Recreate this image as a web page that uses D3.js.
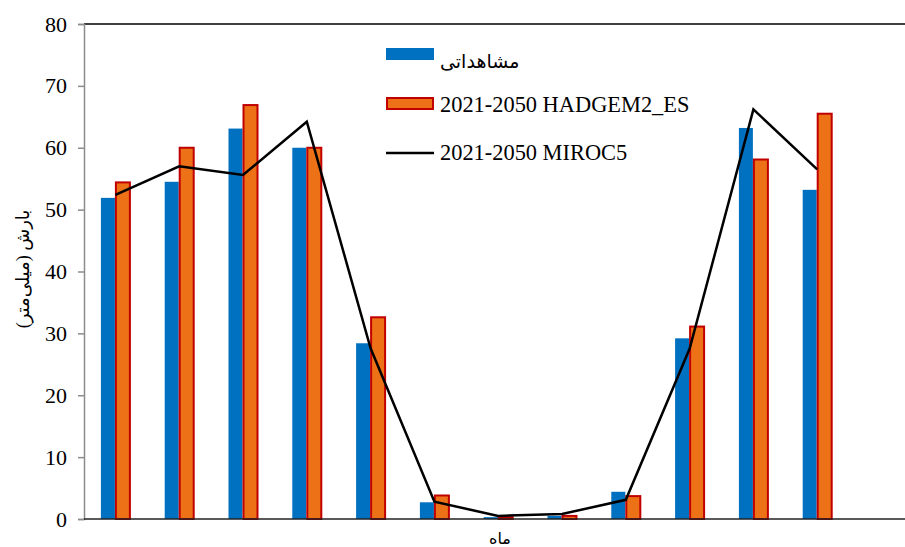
<!DOCTYPE html>
<html>
<head>
<meta charset="utf-8">
<script src="https://cdn.jsdelivr.net/npm/d3@7"></script>
<style>
  html, body { margin: 0; padding: 0; background: #fff; }
  svg { display: block; }
</style>
</head>
<body>
<div id="chart"></div>
<script>
// ---- data ----
const months = [1, 2, 3, 4, 5, 6, 7, 8, 9, 10, 11, 12];
const observed = [51.9, 54.5, 63.1, 60.0, 28.4, 2.7, 0.3, 0.5, 4.4, 29.2, 63.2, 53.2];
const hadgem = [54.4, 60.0, 66.9, 60.0, 32.6, 3.8, 0.3, 0.5, 3.7, 31.1, 58.1, 65.5];
const miroc = [52.4, 57.0, 55.6, 64.2, 27.6, 2.8, 0.5, 0.8, 3.1, 27.5, 66.2, 56.5];
const yTicks = [0, 10, 20, 30, 40, 50, 60, 70, 80];
const seriesNames = ["مشاهداتی", "2021-2050 HADGEM2_ES", "2021-2050 MIROC5"];
const yTitle = "بارش (میلی‌متر)";
const xTitle = "ماه";

(function () {
const W = 905, H = 547;
const pLeft = 84, pTop = 24, pBottom = 519, pRight = 905;
const bandW = 63.8;

const svg = d3.select("#chart").append("svg").attr("width", W).attr("height", H);

const x = d3.scaleBand().domain(months).range([pLeft, pLeft + bandW * months.length]);
const y = d3.scaleLinear().domain([0, 80]).range([pBottom, pTop]);
const cx = m => x(m) + x.bandwidth() / 2;

const serif = "'Liberation Serif', 'Times New Roman', 'DejaVu Serif', serif";
const fa = "'Liberation Serif', 'DejaVu Sans', 'Noto Sans', sans-serif";

// top border
svg.append("line").attr("x1", pLeft).attr("x2", pRight).attr("y1", pTop).attr("y2", pTop)
  .attr("stroke", "#000").attr("stroke-width", 1.5);

// y axis
const yAxis = d3.axisLeft(y).tickValues(yTicks).tickSize(6).tickPadding(11).tickFormat(d3.format("d"));
const ga = svg.append("g").attr("transform", `translate(${pLeft},0)`).call(yAxis);
ga.select(".domain").attr("stroke", "#8c8c8c").attr("stroke-width", 1.5);
ga.selectAll(".tick line").attr("stroke", "#8c8c8c").attr("stroke-width", 1.5);
ga.selectAll(".tick text").attr("font-family", serif).attr("font-size", 22).attr("fill", "#000");

// bars
const bw = 14;
svg.append("g").selectAll("rect").data(months).join("rect")
  .attr("x", (m) => cx(m) - 15)
  .attr("y", (m, i) => y(observed[i]))
  .attr("width", bw)
  .attr("height", (m, i) => y(0) - y(observed[i]))
  .attr("fill", "#0070C0");

svg.append("g").selectAll("rect").data(months).join("rect")
  .attr("x", (m) => cx(m))
  .attr("y", (m, i) => y(hadgem[i]))
  .attr("width", bw)
  .attr("height", (m, i) => y(0) - y(hadgem[i]))
  .attr("fill", "#ED7117")
  .attr("stroke", "#C00000")
  .attr("stroke-width", 2);

// bottom axis line
svg.append("line").attr("x1", pLeft).attr("x2", pRight).attr("y1", pBottom).attr("y2", pBottom)
  .attr("stroke", "#222").attr("stroke-width", 1.5);

// line
const line = d3.line().x((d, i) => cx(months[i]) - 0.5).y(d => y(d));
svg.append("path").datum(miroc).attr("d", line)
  .attr("fill", "none").attr("stroke", "#000").attr("stroke-width", 2.5)
  .attr("stroke-linejoin", "miter");

// legend
const lg = svg.append("g");
lg.append("rect").attr("x", 386).attr("y", 48).attr("width", 48).attr("height", 12).attr("fill", "#0070C0");
lg.append("text").attr("x", 440).attr("y", 68).attr("font-family", fa).attr("font-size", 19)
  .attr("text-anchor", "start").text(seriesNames[0]);
lg.append("rect").attr("x", 387).attr("y", 98).attr("width", 46).attr("height", 11)
  .attr("fill", "#ED7117").attr("stroke", "#C00000").attr("stroke-width", 2);
lg.append("text").attr("x", 440).attr("y", 112).attr("font-family", serif).attr("font-size", 22.4)
  .text(seriesNames[1]);
lg.append("line").attr("x1", 386).attr("x2", 434).attr("y1", 153).attr("y2", 153)
  .attr("stroke", "#000").attr("stroke-width", 2.5);
lg.append("text").attr("x", 440).attr("y", 160).attr("font-family", serif).attr("font-size", 22.4)
  .text(seriesNames[2]);

// axis titles
svg.append("text").attr("transform", `translate(29,269) rotate(-90)`)
  .attr("text-anchor", "middle").attr("font-family", fa).attr("font-size", 18)
  .text(yTitle);
svg.append("text").attr("x", 500).attr("y", 544).attr("text-anchor", "middle")
  .attr("font-family", fa).attr("font-size", 16).text(xTitle);
})();
</script>
</body>
</html>
